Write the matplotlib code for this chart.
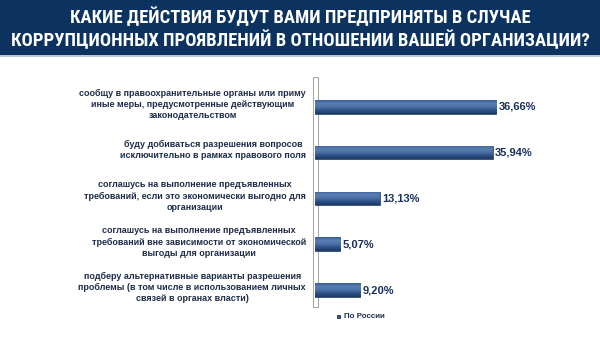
import matplotlib
matplotlib.use("Agg")
import matplotlib.pyplot as plt
import numpy as np
from matplotlib.patches import Rectangle
from matplotlib import font_manager
from matplotlib.font_manager import FontProperties
from matplotlib.colors import LinearSegmentedColormap

categories = [
    "сообщу в правоохранительные органы или приму\nиные меры, предусмотренные действующим\nзаконодательством",
    "буду добиваться разрешения вопросов\nисключительно в рамках правового поля",
    "соглашусь на выполнение предъявленных\nтребований, если это экономически выгодно для\nорганизации",
    "соглашусь на выполнение предъявленных\nтребований вне зависимости от экономической\nвыгоды для организации",
    "подберу альтернативные варианты разрешения\nпроблемы (в том числе в использованием личных\nсвязей в органах власти)",
]
values = [36.66, 35.94, 13.13, 5.07, 9.20]
value_labels = ["36,66%", "35,94%", "13,13%", "5,07%", "9,20%"]
series_name = "По России"
title = "КАКИЕ ДЕЙСТВИЯ БУДУТ ВАМИ ПРЕДПРИНЯТЫ В СЛУЧАЕ\nКОРРУПЦИОННЫХ ПРОЯВЛЕНИЙ В ОТНОШЕНИИ ВАШЕЙ ОРГАНИЗАЦИИ?"

# look for a condensed / narrow bold font file
cands = []
for f in font_manager.fontManager.ttflist:
    fn = f.fname.lower()
    if ("condensed" in fn or "narrow" in fn) and "bold" in fn and "italic" not in fn and "oblique" not in fn:
        cands.append(f.fname)
pref = None
for key in ["robotocondensed-bold", "liberationsansnarrow-bold", "dejavusanscondensed-bold", "condensed-bold", "narrow-bold"]:
    for c in cands:
        if key in c.lower().replace(" ", "").replace("_", ""):
            pref = c
            break
    if pref:
        break
if pref is None and cands:
    pref = cands[0]

W, H = 600, 338
fig = plt.figure(figsize=(6, 3.38), dpi=100)
fig.patch.set_facecolor("white")

# title banner
fig.patches.append(Rectangle((0, 1 - 55 / H), 1, 55 / H, transform=fig.transFigure,
                             facecolor="#0c335f", edgecolor="none", zorder=0))
fig.patches.append(Rectangle((0, 1 - 57 / H), 1, 2 / H, transform=fig.transFigure,
                             facecolor="#b9c8d8", edgecolor="none", zorder=0))
if pref:
    tfp = FontProperties(fname=pref, size=13.4)
else:
    tfp = FontProperties(family="Liberation Sans", weight="bold", size=11)
fig.text(0.5, 1 - 29 / H, title, ha="center", va="center", color="white",
         fontproperties=tfp, linespacing=1.2)

# axes
ax_left, ax_right, ax_top, ax_bot = 315, 585, 77, 307
ax = fig.add_axes([ax_left / W, 1 - ax_bot / H, (ax_right - ax_left) / W, (ax_bot - ax_top) / H])
ax.set_facecolor("none")
scale = 4.94  # px per unit
xmax = (ax_right - ax_left) / scale
ax.set_xlim(0, xmax)
ypos = list(range(len(values) - 1, -1, -1))
ax.set_ylim(-0.37, 4.65)

bh = 0.30
bars = ax.barh(ypos, values, height=bh, color="#2f5283", edgecolor="#1d3a63", linewidth=0.5,
               zorder=3, label=series_name)
cmap = LinearSegmentedColormap.from_list("cyl", ["#1e3963", "#2d5086", "#4a70a6", "#5a7fb3", "#3a5f95"])
grad = np.linspace(0, 1, 64).reshape(-1, 1)
for b in bars:
    x0, y0, w, h = b.get_x(), b.get_y(), b.get_width(), b.get_height()
    im = ax.imshow(grad, cmap=cmap, aspect="auto", origin="lower",
                   extent=(x0, x0 + w, y0, y0 + h), zorder=4, interpolation="bilinear")
    im.set_clip_path(b)
ax.set_xlim(0, xmax)
ax.set_ylim(-0.37, 4.65)

for y, v, lab in zip(ypos, values, value_labels):
    ax.text(v + 0.5, y, lab, ha="left", va="center", fontsize=8, fontweight="bold",
            color="#1a2f5a", family="Liberation Sans", zorder=5)

for y, c in zip(ypos, categories):
    ax.text(-1.8, y + 0.05, c, ha="right", va="center", multialignment="center",
            fontsize=6.5, fontweight="bold", color="#1f2d4a", family="Liberation Sans",
            linespacing=1.3)

for s in ax.spines.values():
    s.set_visible(False)
ax.set_xticks([])
ax.set_yticks([])

# left wall
ax.add_patch(Rectangle((-2.5 / (ax_right - ax_left), 0), 5 / (ax_right - ax_left), 1,
                       transform=ax.transAxes, facecolor="white", edgecolor="#a8a8a8",
                       linewidth=0.8, clip_on=False, zorder=1))

# legend
fig.patches.append(Rectangle((337 / W, 1 - 319 / H), 4 / W, 4 / H, transform=fig.transFigure,
                             facecolor="#2f5283", edgecolor="none"))
fig.text(344 / W, 1 - 317 / H, series_name, ha="left", va="center", fontsize=5.8,
         fontweight="bold", color="#1f2d4a", family="Liberation Sans")

fig.savefig("out.png", dpi=100, facecolor="white")
